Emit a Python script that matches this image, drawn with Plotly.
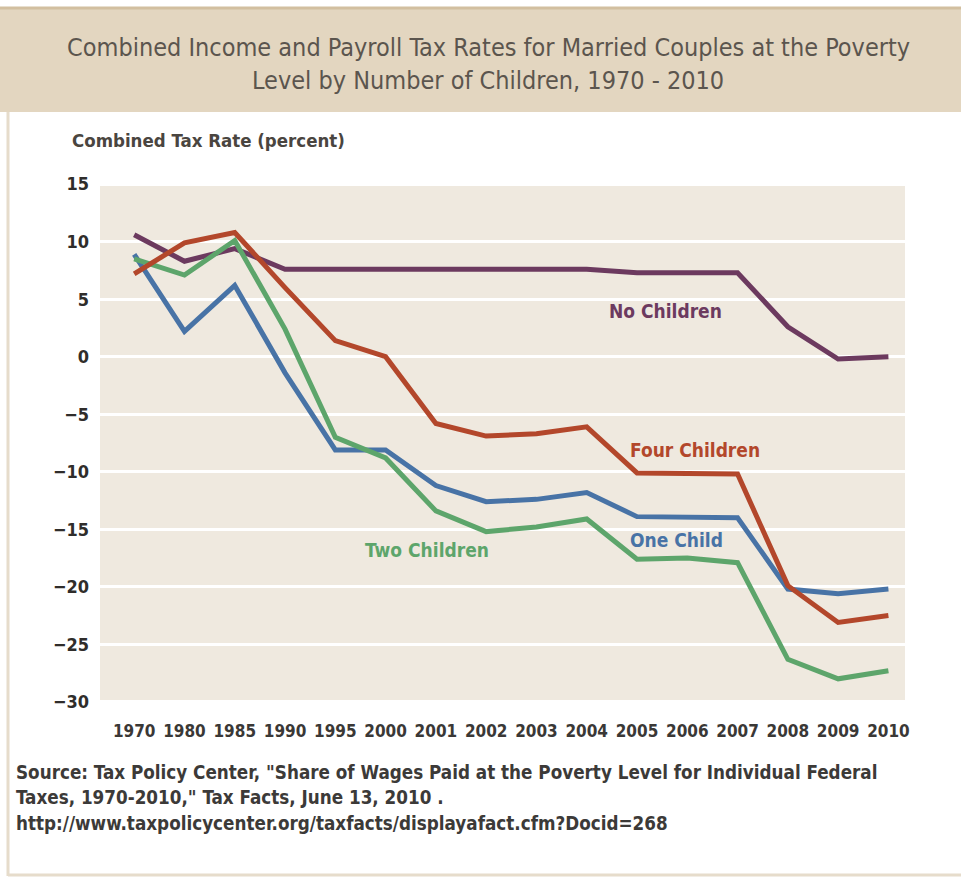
import plotly.graph_objects as go

years = ["1970", "1980", "1985", "1990", "1995", "2000", "2001", "2002", "2003",
         "2004", "2005", "2006", "2007", "2008", "2009", "2010"]
no_children = [10.6, 8.3, 9.4, 7.6, 7.6, 7.6, 7.6, 7.5, 7.6, 7.6, 7.3, 7.3, 7.3, 2.6, -0.2, 0.0]
one_child = [8.9, 2.2, 6.2, -1.4, -8.1, -8.1, -11.2, -12.6, -12.4, -11.8, -13.9, -13.9, -14.0, -20.2, -20.6, -20.2]
two_children = [8.5, 7.1, 10.1, 2.4, -7.0, -8.8, -13.4, -15.2, -14.8, -14.1, -17.6, -17.5, -17.9, -26.3, -28.0, -27.3]
four_children = [7.2, 9.9, 10.8, 6.0, 1.4, 0.0, -5.8, -6.9, -6.7, -6.1, -10.1, -10.1, -10.2, -19.9, -23.1, -22.5]

series_names = ["No Children", "One Child", "Two Children", "Four Children"]
series_values = [no_children, one_child, two_children, four_children]
series_colors = ["#6C3A5F", "#4873A6", "#5DA56B", "#B3472B"]

y_ticks = [15, 10, 5, 0, -5, -10, -15, -20, -25, -30]

title_lines = ["Combined Income and Payroll Tax Rates for Married Couples at the Poverty",
               "Level by Number of Children, 1970 - 2010"]
y_title = "Combined Tax Rate (percent)"
source_lines = ["Source: Tax Policy Center, \"Share of Wages Paid at the Poverty Level for Individual Federal",
                "Taxes, 1970-2010,\" Tax Facts, June 13, 2010 .",
                "http://www.taxpolicycenter.org/taxfacts/displayafact.cfm?Docid=268"]

# label positions (category index, value)
label_pos = {"No Children": (10.56, 4.0), "Four Children": (11.15, -8.1),
             "One Child": (10.78, -15.9), "Two Children": (5.83, -16.8)}

FONT = "Liberation Sans Narrow, DejaVu Sans Condensed, Arial Narrow, sans-serif"

W, H = 961, 878
L, R, T, B = 100, 905, 183, 703


def px(x):
    return (x - L) / (R - L)


def py(y):
    return (B - y) / (B - T)


fig = go.Figure()
for name, vals, col in zip(series_names, series_values, series_colors):
    fig.add_trace(go.Scatter(x=list(range(len(years))), y=vals, mode="lines", name=name,
                             line=dict(color=col, width=5), showlegend=False))
    lx, ly = label_pos[name]
    fig.add_annotation(x=lx, y=ly, xref="x", yref="y", text=name, showarrow=False,
                       font=dict(family=FONT, size=19, color=col, weight="bold"))

# title band and frame
shapes = [
    dict(type="rect", xref="paper", yref="paper", x0=px(0), x1=px(W), y0=py(112), y1=py(7),
         fillcolor="#E3D6C0", line=dict(width=0), layer="below"),
    dict(type="line", xref="paper", yref="paper", x0=px(0), x1=px(W), y0=py(8), y1=py(8),
         line=dict(color="#D2BFA0", width=3)),
    dict(type="line", xref="paper", yref="paper", x0=px(8), x1=px(8), y0=py(112), y1=py(876),
         line=dict(color="#E6DCCB", width=3)),
    dict(type="line", xref="paper", yref="paper", x0=px(8), x1=px(W), y0=py(875), y1=py(875),
         line=dict(color="#E6DCCB", width=3)),
]

for i, t in enumerate(title_lines):
    fig.add_annotation(x=px(488), y=py(47 + 33 * i), xref="paper", yref="paper", text=t,
                       showarrow=False, xanchor="center", yanchor="middle",
                       font=dict(family=FONT, size=25, color="#5B554E"))

fig.add_annotation(x=px(70), y=py(140), xref="paper", yref="paper", text=y_title,
                   showarrow=False, xanchor="left", yanchor="middle",
                   font=dict(family=FONT, size=18.5, color="#4A4540", weight="bold"))

for i, t in enumerate(source_lines):
    fig.add_annotation(x=px(14), y=py(772 + 25.5 * i), xref="paper", yref="paper", text=t,
                       showarrow=False, xanchor="left", yanchor="middle",
                       font=dict(family=FONT, size=18.7, color="#3C3A38", weight="bold"))

fig.update_layout(
    width=W, height=H,
    margin=dict(l=L, r=W - R, t=T, b=H - B),
    paper_bgcolor="white",
    plot_bgcolor="#EFE9DF",
    shapes=shapes,
    font=dict(family=FONT),
    xaxis=dict(range=[-0.68, 15.33], tickmode="array", tickvals=list(range(len(years))),
               ticktext=years, showgrid=False, zeroline=False, showline=False,
               ticks="", ticklabelstandoff=16,
               tickfont=dict(family=FONT, size=17, color="#3A3836", weight="bold")),
    yaxis=dict(range=[-30.1, 15.1], tickmode="array", tickvals=y_ticks,
               showgrid=True, gridcolor="white", gridwidth=3, zeroline=False, showline=False,
               ticks="", ticklabelstandoff=10,
               tickfont=dict(family=FONT, size=18, color="#2F2D2B", weight="bold")),
)

fig.write_html("out.html")
